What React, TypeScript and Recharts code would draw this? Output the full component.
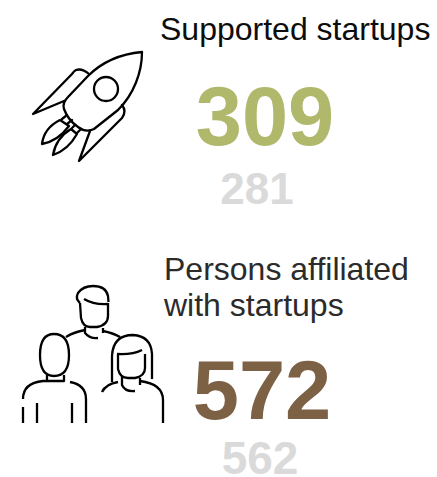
import React from 'react';
import { BarChart, Bar, XAxis, YAxis, LabelList } from 'recharts';

const metrics = ['Supported startups', 'Persons affiliated with startups'];
const titleLines = [['Supported startups'], ['Persons affiliated', 'with startups']];
const currentValues = [309, 572];
const previousValues = [281, 562];

const chartData = metrics.map((metric, i) => ({
  metric,
  current: currentValues[i],
  previous: previousValues[i],
}));

const CURRENT_COLORS = ['#B0B86B', '#7D6145'];
const PREVIOUS_COLOR = '#DADADA';
const FONT = '"Liberation Sans", Arial, sans-serif';

const RocketIcon = () => (
  <g fill="none" stroke="#000" strokeWidth={2.3} strokeLinejoin="round" strokeLinecap="round">
    <path d="M142 52 C120 54 102 62 88 76 L68 97 Q62 103 64 109 Q68 120 78 127 Q86 133 94 129 L118 110 C134 94 142 72 142 52 Z" />
    <circle cx={106} cy={89} r={12} />
    <path d="M89 74 Q82 68 76 70 Q74 71 72 74 L33 114 L64 101" />
    <path d="M122 105 Q127 111 122 118 L79 161 L90 131" />
    {/* flames and nozzles */}
    <path d="M60 120 Q44 128 42 144 Q58 141 69 126 Z" />
    <path d="M71 129 Q56 138 53 155 Q68 150 77 134 Z" />
    <path d="M62 119 L67 115" />
    <path d="M67 124 L72 120" />
    <path d="M72 128 L75 125" />
    <path d="M77 133 L80 130" />
  </g>
);

const PeopleIcon = () => (
  <g fill="none" stroke="#000" strokeWidth={2.3} strokeLinejoin="round" strokeLinecap="butt">
    {/* back */}
    <path d="M80 303 Q75 299 78 293 Q83 286 93 286 Q106 286 108 296 L108.500 302" />
    <path d="M84 299 Q94 305 108 304" />
    <path d="M80 303 L81 318 Q83 327 90 327 L97 327 Q108 325 108 316 L108 303" />
    <path d="M85 327 L85 333 Q90 339 98 338" />
    <path d="M103 328 L103 333" />
    <path d="M66 337 Q74 332 85 330" />
    <path d="M103 331 Q113 333 120 337" />
    {/* left */}
    <path d="M40 355 Q40 334 54 334 Q69 334 69 355 Q69 376 54 376 Q40 376 40 355 Z" />
    <path d="M47 375 L47 381 L64 381 L64 375" />
    <path d="M23 399 Q23 383 43 381 L47 381" />
    <path d="M70 382 Q86 385 86 399 L86 423" />
    <path d="M23 407 L23 423" />
    <path d="M37 403 L37 423" />
    <path d="M72 403 L72 423" />
    {/* woman */}
    <path d="M112 382 L112 356 Q113 335 133 335 Q151 336 152 354 L152 379" />
    <path d="M117 354 Q132 355 142 350" />
    <path d="M118 354 L118 369 Q120 378 128 378 L135 378 Q145 376 145 368 L145 354" />
    <path d="M122 377 L122 385 Q125 392 135 391" />
    <path d="M140 378 L140 385" />
    <path d="M102 392 Q106 384 118 382" />
    <path d="M140 381 Q163 384 163 400 L163 423" />
  </g>
);

const icons = [RocketIcon, PeopleIcon];

// title + icon hang off the category axis, one per band
const titleLayout = [
  { x: 160, baselines: [40], fill: '#0D0D0D' },
  { x: 164, baselines: [280, 316], fill: '#2B2B2B' },
];

const MetricTick = ({ index }: any) => {
  const Icon = icons[index];
  const layout = titleLayout[index];
  return (
    <g>
      <Icon />
      {titleLines[index].map((line, i) => (
        <text key={line} x={layout.x} y={layout.baselines[i]} fontSize={32} fontFamily={FONT} fill={layout.fill}>
          {line}
        </text>
      ))}
    </g>
  );
};

const currentCenters = [265, 262];
const currentDy = [85, 121];
const currentSizes = [83, 83];
const previousCenters = [257, 260];
const previousDy = [25, 57];
const previousSizes = [44, 46];

const makeValueLabel = (centers: number[], dys: number[], sizes: number[], colors: string[]) => (props: any) => {
  const { y, height, value, index } = props;
  return (
    <text
      x={centers[index]}
      y={y + height / 2 + dys[index]}
      textAnchor="middle"
      fontSize={sizes[index]}
      fontWeight={700}
      fontFamily={FONT}
      fill={colors[index]}
    >
      {value}
    </text>
  );
};

export default function App() {
  return (
    <div style={{ position: 'absolute', left: 0, top: 0, width: 437, height: 477, background: '#fff' }}>
      <BarChart
        width={437}
        height={477}
        data={chartData}
        layout="vertical"
        margin={{ top: 0, right: 0, bottom: 0, left: 0 }}
        barCategoryGap={0}
        barGap={0}
      >
        <XAxis type="number" domain={[0, 1000]} hide />
        <YAxis type="category" dataKey="metric" width={20} axisLine={false} tickLine={false} tick={(p: any) => <MetricTick {...p} />} interval={0} />
        <Bar dataKey="current" fill="none" isAnimationActive={false}>
          <LabelList dataKey="current" content={makeValueLabel(currentCenters, currentDy, currentSizes, CURRENT_COLORS)} />
        </Bar>
        <Bar dataKey="previous" fill="none" isAnimationActive={false}>
          <LabelList dataKey="previous" content={makeValueLabel(previousCenters, previousDy, previousSizes, [PREVIOUS_COLOR, PREVIOUS_COLOR])} />
        </Bar>
      </BarChart>
    </div>
  );
}
